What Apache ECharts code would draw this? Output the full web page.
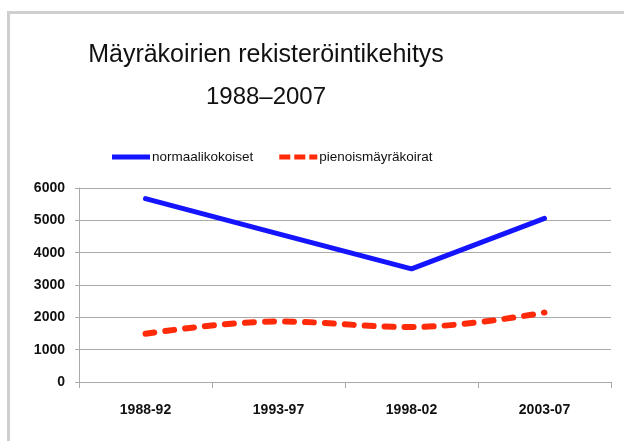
<!DOCTYPE html>
<html>
<head>
<meta charset="utf-8">
<script src="https://cdn.jsdelivr.net/npm/echarts@6/dist/echarts.min.js"></script>
<style>
  html, body { margin: 0; padding: 0; background: #fff; }
  #chart { width: 624px; height: 441px; }
</style>
</head>
<body>
<div id="chart"></div>
<script>
// jaksot ja rekisteröinnit
const periods = ['1988-92', '1993-97', '1998-02', '2003-07']
const normaalikokoiset = [5670, 4580, 3500, 5060]
const pienoismayrakoirat = [1490, 1870, 1700, 2150]
const titleLines = ['Mäyräkoirien rekisteröintikehitys', '1988–2007']

const font = '"Liberation Sans", Arial, sans-serif'
const dashIcon = 'path://M0,0h11v4h-11zM15,0h11v4h-11zM30,0h8v4h-8z'

const myChart = echarts.init(document.getElementById('chart'))
const option = {
  animation: false,
  graphic: [
    {
      type: 'rect',
      shape: { x: 8.5, y: 12.5, width: 700, height: 500 },
      style: { fill: 'none', stroke: '#cfcfcf', lineWidth: 3 },
      silent: true
    },
    {
      type: 'text',
      x: 266,
      y: 55,
      style: {
        text: titleLines[0],
        font: '25px ' + font,
        fill: '#111',
        textAlign: 'center',
        textVerticalAlign: 'middle'
      }
    },
    {
      type: 'text',
      x: 266,
      y: 97,
      style: {
        text: titleLines[1],
        font: '24px ' + font,
        fill: '#111',
        textAlign: 'center',
        textVerticalAlign: 'middle'
      }
    }
  ],
  legend: {
    left: 107,
    top: 145,
    itemWidth: 38,
    itemHeight: 5,
    itemGap: 26,
    symbolKeepAspect: false,
    textStyle: { fontFamily: font, fontSize: 13.5, color: '#111', padding: [0, 0, 0, -3] },
    data: [
      { name: 'normaalikokoiset', icon: 'rect' },
      { name: 'pienoismäyräkoirat', icon: dashIcon }
    ]
  },
  grid: { left: 79, right: 13, top: 188, bottom: 59 },
  xAxis: {
    type: 'category',
    data: periods,
    boundaryGap: true,
    axisLine: { lineStyle: { color: '#aaa', width: 1 } },
    axisTick: { show: true, length: 6, lineStyle: { color: '#aaa' } },
    axisLabel: { margin: 21, fontFamily: font, fontSize: 14, fontWeight: 'bold', color: '#111' }
  },
  yAxis: {
    type: 'value',
    min: 0,
    max: 6000,
    interval: 1000,
    axisLine: { show: true, lineStyle: { color: '#aaa', width: 1 } },
    axisTick: { show: true, length: 4, lineStyle: { color: '#aaa' } },
    axisLabel: {
      margin: 14,
      fontFamily: font,
      fontSize: 14,
      fontWeight: 'bold',
      color: '#111',
      formatter: v => String(v)
    },
    splitLine: { lineStyle: { color: '#aaa', width: 1 } }
  },
  series: [
    {
      name: 'normaalikokoiset',
      type: 'line',
      data: normaalikokoiset,
      symbol: 'none',
      color: '#1414ff',
      lineStyle: { color: '#1414ff', width: 5, cap: 'round', join: 'round' }
    },
    {
      name: 'pienoismäyräkoirat',
      type: 'line',
      data: pienoismayrakoirat,
      symbol: 'none',
      smooth: 0.4,
      color: '#ff2a0a',
      lineStyle: { color: '#ff2a0a', width: 6, type: [9, 11], cap: 'round' }
    }
  ]
}
option && myChart.setOption(option)
</script>
</body>
</html>
